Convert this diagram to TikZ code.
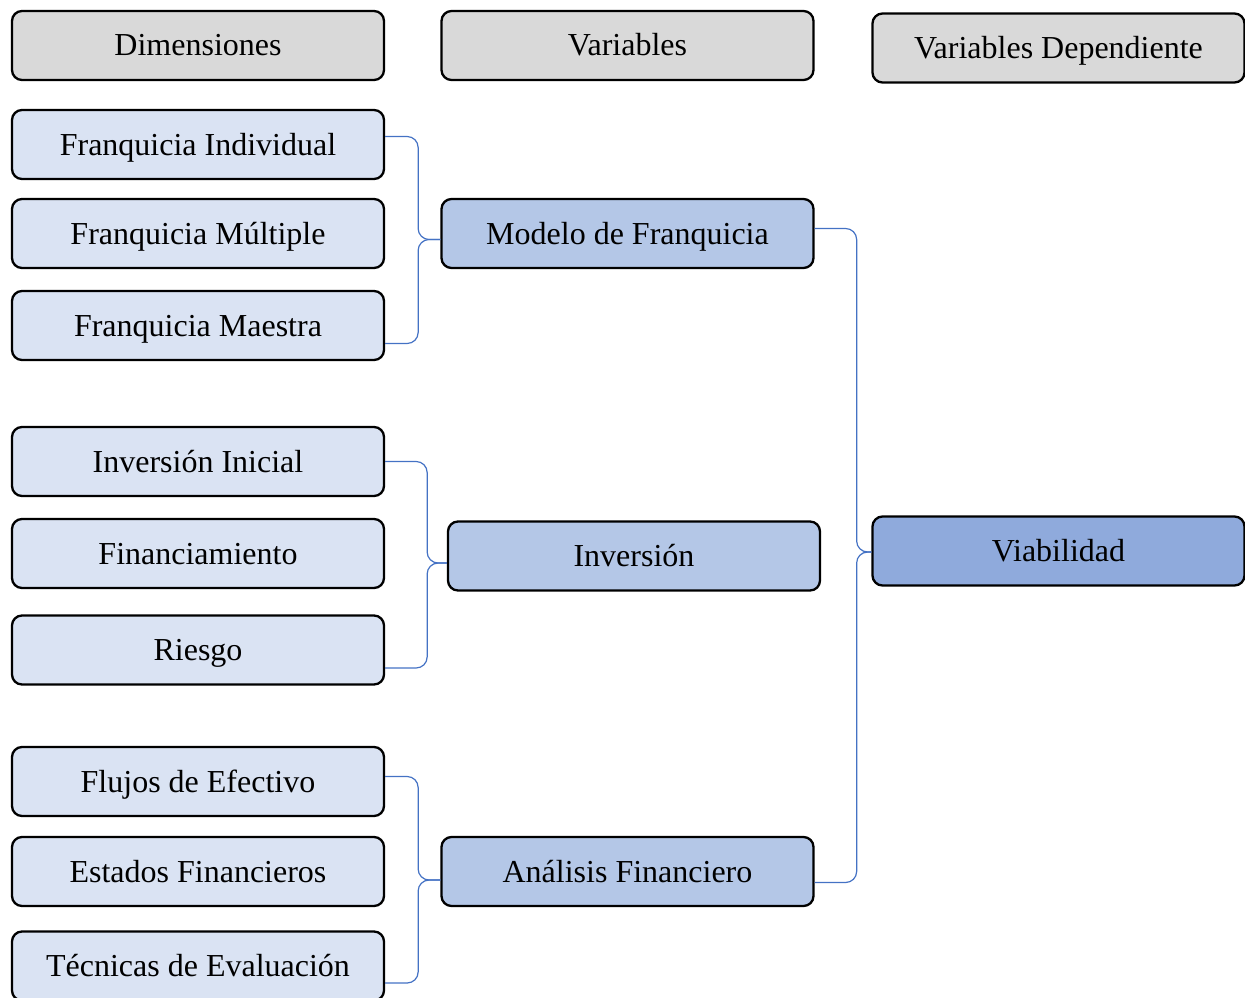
\documentclass[tikz,border=0pt]{standalone}
\usepackage{fontspec}
\setmainfont{Liberation Serif}
\usepackage{xcolor}
\definecolor{headgray}{HTML}{D9D9D9}
\definecolor{dimblue}{HTML}{DAE3F3}
\definecolor{varblue}{HTML}{B4C7E7}
\definecolor{depblue}{HTML}{8FAADC}
\definecolor{linkblue}{HTML}{4472C4}
\usetikzlibrary{arrows}

\begin{document}
\begin{tikzpicture}[x=1pt,y=-1pt,semithick]
    \tikzstyle{every node}=[font=\fontsize{32}{38}\selectfont]
    \tikzstyle{box}=[shape=rectangle, rounded corners=10pt, draw=black, line width=2.3pt,
        minimum width=372pt, minimum height=69pt, inner sep=0pt,
        text height=28pt, text depth=7pt]
    \tikzstyle{head}=[box, fill=headgray]
    \tikzstyle{dim}=[box, fill=dimblue]
    \tikzstyle{var}=[box, fill=varblue]
    \tikzstyle{dep}=[box, fill=depblue]
    \tikzstyle{link}=[draw=linkblue, line width=1.2pt, rounded corners=11pt]
    \useasboundingbox (0,0) rectangle (1245,998);
    % headers
    \node[head] (dim) at (198, 45.5) {Dimensiones};
    \node[head] (var) at (627.5, 45.5) {Variables};
    \node[head] (vdep) at (1058.5, 48) {Variables Dependiente};
    % dimensions
    \node[dim] (fi) at (198, 144.5) {Franquicia Individual};
    \node[dim] (fm) at (198, 233.5) {Franquicia Múltiple};
    \node[dim] (fma) at (198, 325.5) {Franquicia Maestra};
    \node[dim] (ii) at (198, 461.5) {Inversión Inicial};
    \node[dim] (fin) at (198, 553.5) {Financiamiento};
    \node[dim] (rie) at (198, 650) {Riesgo};
    \node[dim] (fe) at (198, 781.5) {Flujos de Efectivo};
    \node[dim] (ef) at (198, 871.5) {Estados Financieros};
    \node[dim] (te) at (198, 966) {Técnicas de Evaluación};
    % variables
    \node[var] (mf) at (627.5, 233.5) {Modelo de Franquicia};
    \node[var] (inv) at (634, 556) {Inversión};
    \node[var] (af) at (627.5, 871.5) {Análisis Financiero};
    \node[dep] (via) at (1058.5, 551) {Viabilidad};
    % braces
    \draw[link] ([yshift=8]fi.east) -- ++(33,0) |- ([yshift=-6]mf.west);
    \draw[link] ([yshift=-18]fma.east) -- ++(33,0) |- ([yshift=-6]mf.west);
    \draw[link] (ii.east) -- ++(42,0) |- ([yshift=-7]inv.west);
    \draw[link] ([yshift=-18]rie.east) -- ++(42,0) |- ([yshift=-7]inv.west);
    \draw[link] ([yshift=5]fe.east) -- ++(33,0) |- ([yshift=-8.5]af.west);
    \draw[link] ([yshift=-17]te.east) -- ++(33,0) |- ([yshift=-8.5]af.west);
    \draw[link] ([yshift=5]mf.east) -- ++(42,0) |- ([yshift=-1]via.west);
    \draw[link] ([yshift=-11]af.east) -- ++(42,0) |- ([yshift=-1]via.west);
\end{tikzpicture}
\end{document}
